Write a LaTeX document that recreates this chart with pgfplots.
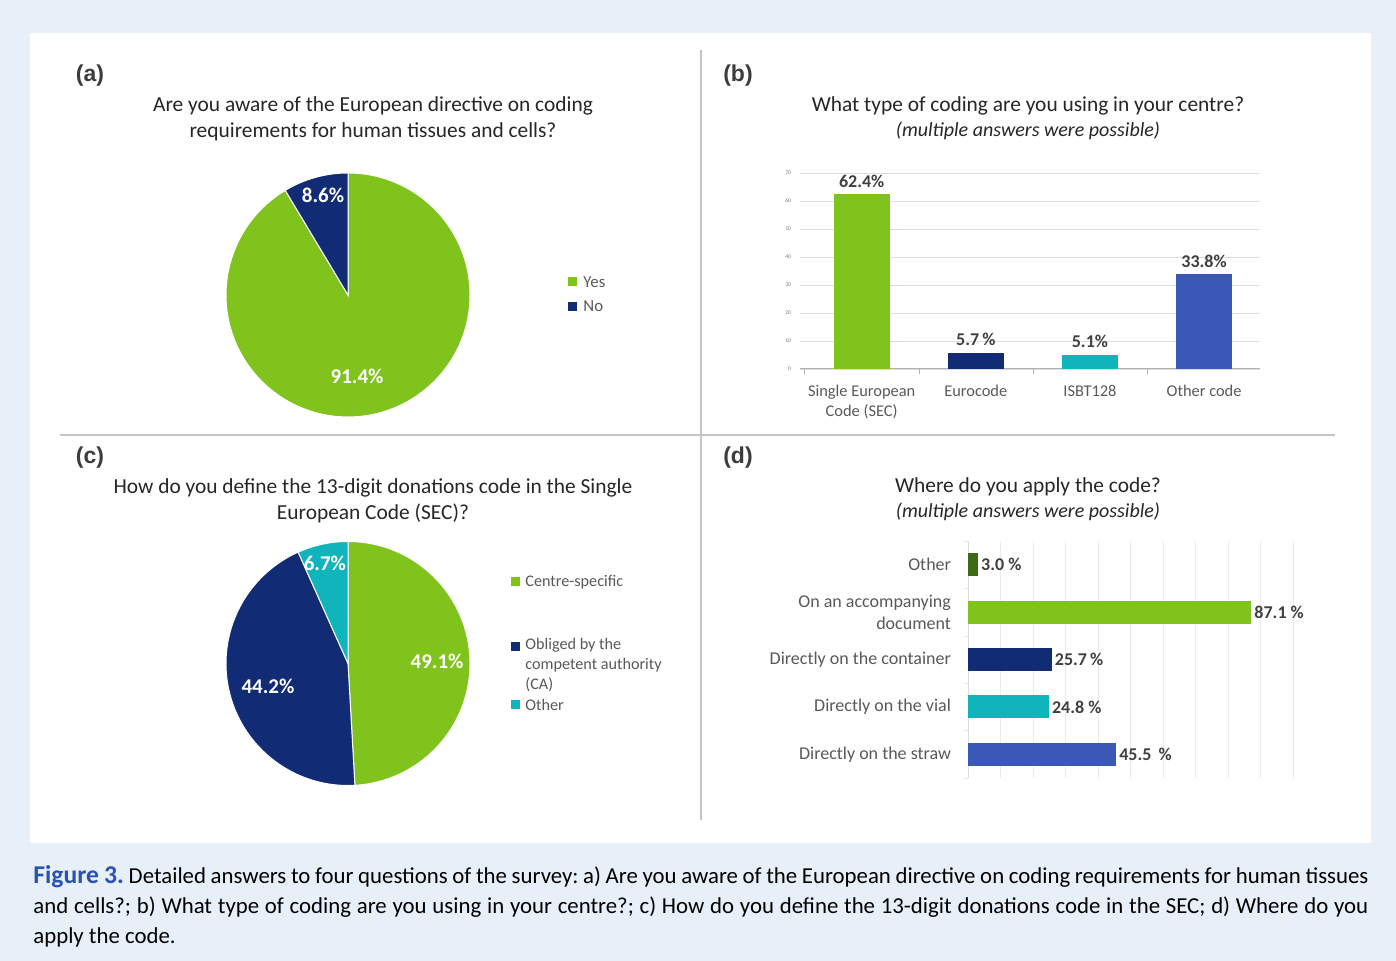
\documentclass[border=0pt]{standalone}
\usepackage{fontspec}
\setmainfont{Carlito}
\newfontfamily\arialf{Liberation Sans}
\usepackage{pgfplots}
\pgfplotsset{compat=1.18}
\definecolor{bgc}{HTML}{E7EFF9}
\definecolor{cgreen}{HTML}{80C31C}
\definecolor{cnavy}{HTML}{112B74}
\definecolor{cteal}{HTML}{10B5BC}
\definecolor{cblue}{HTML}{3A58B8}
\definecolor{cdkgreen}{HTML}{3D6914}
\definecolor{titc}{HTML}{262626}
\definecolor{labc}{HTML}{595959}
\definecolor{valc}{HTML}{404040}
\definecolor{gridc}{HTML}{DDDDDD}
\definecolor{gridl}{HTML}{EBEBEB}
\definecolor{divc}{HTML}{C4C4C4}
\definecolor{figblue}{HTML}{2A52B0}
\newcommand{\tfont}{\fontsize{10.7}{13}\selectfont}
\newcommand{\sfont}{\itshape\fontsize{10}{13}\selectfont}
\newcommand{\lfont}{\fontsize{8.2}{10}\selectfont}
\newcommand{\dfont}{\fontsize{9}{11}\selectfont}
\newcommand{\vfont}{\bfseries\fontsize{9}{10}\selectfont}
\newcommand{\pfont}{\bfseries\fontsize{10.5}{12}\selectfont}
\newcommand{\panfont}{\arialf\bfseries\fontsize{11.5}{13}\selectfont}
\begin{document}
\frenchspacing
\begin{tikzpicture}
% background
\fill[bgc] (0pt,0pt) rectangle (698pt,480.5pt);
\fill[white] (15pt,59pt) rectangle (685.5pt,464pt);
% dividers
\draw[divc, line width=0.6pt] (350.5pt,70.5pt) -- (350.5pt,455.5pt);
\draw[divc, line width=0.6pt] (30pt,263pt) -- (667.5pt,263pt);

% ---------- panel (a) ----------
\node[text=titc!90, font=\panfont] at (45pt,442.5pt) {(a)};
\node[text=titc, font=\tfont, align=center] at (186.5pt,421pt) {Are you aware of the European directive on coding\\requirements for human tissues and cells?};
\begin{axis}[at={(174pt,333pt)}, anchor=center, hide axis, x=61pt, y=61pt,
  xmin=-1, xmax=1, ymin=-1, ymax=1, clip=false]
  \fill[cgreen, draw=white, line width=0.5pt] (axis cs:0,0) -- (axis cs:0,1) arc[start angle=90, end angle={90-3.6*91.4}, radius=1] -- cycle;
  \fill[cnavy, draw=white, line width=0.5pt] (axis cs:0,0) -- (axis cs:0,1) arc[start angle=90, end angle={90+3.6*8.6}, radius=1] -- cycle;
  \node[text=white, font=\pfont] at (axis cs:-0.205,0.82) {8.6\%};
  \node[text=white, font=\pfont] at (axis cs:0.074,-0.664) {91.4\%};
\end{axis}
\fill[cgreen] (284pt,337.25pt) rectangle ++(4.5pt,4.5pt);
\node[anchor=west, inner sep=0pt, text=labc, font=\fontsize{8.4}{10}\selectfont] at (291.5pt,339.5pt) {Yes};
\fill[cnavy] (284pt,325pt) rectangle ++(4.5pt,4.5pt);
\node[anchor=west, inner sep=0pt, text=labc, font=\fontsize{8.4}{10}\selectfont] at (291.5pt,327.25pt) {No};

% ---------- panel (b) ----------
\node[text=titc!90, font=\panfont] at (369pt,442.5pt) {(b)};
\node[text=titc, font=\tfont] at (514pt,427.5pt) {What type of coding are you using in your centre?};
\node[text=titc, font=\sfont] at (514pt,415pt) {(multiple answers were possible)};
\begin{axis}[at={(400pt,296pt)}, anchor=south west, scale only axis, width=230pt, height=98pt,
  xmin=-0.54, xmax=3.49, ymin=0, ymax=70,
  ybar, bar width=28pt,
  ytick={0,10,...,70}, xtick={0,1,2,3},
  xticklabels={{Single European\\Code (SEC)},Eurocode,ISBT128,Other code},
  xticklabel style={align=center, font=\lfont, text=labc, yshift=-4.5pt},
  yticklabel style={font=\fontsize{2.8}{3}\selectfont, text=labc!80, xshift=-1pt},
  /pgf/number format/assume math mode=true,
  ymajorgrids, grid style={gridc, line width=0.4pt},
  axis x line*=bottom, axis y line*=left,
  y axis line style={draw=none}, x axis line style={gridc!80!black, line width=0.5pt},
  major tick length=0pt,
  minor xtick={-0.5,0.5,1.5,2.5,3.5}, minor tick length=2.5pt, tick align=outside,
  minor tick style={gridc!80!black},
  nodes near coords style={font=\vfont, text=valc},
  clip=false]
  \addplot[fill=cgreen, draw=none, bar shift=0pt, nodes near coords={62.4\%}] coordinates {(0,62.4)};
  \addplot[fill=cnavy, draw=none, bar shift=0pt, nodes near coords={5.7\,\%}] coordinates {(1,5.7)};
  \addplot[fill=cteal, draw=none, bar shift=0pt, nodes near coords={5.1\%}] coordinates {(2,5.1)};
  \addplot[fill=cblue, draw=none, bar shift=0pt, nodes near coords={33.8\%}] coordinates {(3,33.8)};
\end{axis}

% ---------- panel (c) ----------
\node[text=titc!90, font=\panfont] at (45pt,251.5pt) {(c)};
\node[text=titc, font=\tfont, align=center] at (186.5pt,230pt) {How do you define the 13-digit donations code in the Single\\European Code (SEC)?};
\begin{axis}[at={(174pt,148.75pt)}, anchor=center, hide axis, x=61pt, y=61pt,
  xmin=-1, xmax=1, ymin=-1, ymax=1, clip=false]
  \fill[cgreen, draw=white, line width=0.5pt] (axis cs:0,0) -- (axis cs:0,1) arc[start angle=90, end angle={90-3.6*49.1}, radius=1] -- cycle;
  \fill[cnavy, draw=white, line width=0.5pt] (axis cs:0,0) -- (axis cs:{cos(90-3.6*49.1)},{sin(90-3.6*49.1)}) arc[start angle={90-3.6*49.1}, end angle={90-3.6*(49.1+44.2)}, radius=1] -- cycle;
  \fill[cteal, draw=white, line width=0.5pt] (axis cs:0,0) -- (axis cs:0,1) arc[start angle=90, end angle={90+3.6*6.7}, radius=1] -- cycle;
  \node[text=white, font=\pfont] at (axis cs:-0.189,0.824) {6.7\%};
  \node[text=white, font=\pfont] at (axis cs:0.730,0.02) {49.1\%};
  \node[text=white, font=\pfont] at (axis cs:-0.656,-0.184) {44.2\%};
\end{axis}
\fill[cgreen] (255.25pt,187.25pt) rectangle ++(4.5pt,4.5pt);
\node[anchor=west, inner sep=0pt, text=labc, font=\fontsize{8.1}{10}\selectfont] at (262.5pt,189.5pt) {Centre-specific};
\fill[cnavy] (255.25pt,154.75pt) rectangle ++(4.5pt,4.5pt);
\node[anchor=north west, inner sep=0pt, text=labc, font=\fontsize{8.1}{10}\selectfont, align=left] at (262.5pt,161.8pt) {Obliged by the\\competent authority\\(CA)};
\fill[cteal] (255.25pt,125.75pt) rectangle ++(4.5pt,4.5pt);
\node[anchor=west, inner sep=0pt, text=labc, font=\fontsize{8.1}{10}\selectfont] at (262.5pt,128pt) {Other};

% ---------- panel (d) ----------
\node[text=titc!90, font=\panfont] at (369pt,251.5pt) {(d)};
\node[text=titc, font=\tfont] at (514pt,237pt) {Where do you apply the code?};
\node[text=titc, font=\sfont] at (514pt,224.5pt) {(multiple answers were possible)};
\begin{axis}[at={(484pt,91.5pt)}, anchor=south west, scale only axis, width=162.5pt, height=118.5pt,
  xmin=0, xmax=100, ymin=-0.5, ymax=4.5,
  xbar, bar width=11.5pt,
  xtick={0,10,...,100}, xticklabels={},
  xmajorgrids, grid style={gridl, line width=0.4pt},
  ytick={0,1,2,3,4},
  yticklabels={Directly on the straw, Directly on the vial, Directly on the container, {On an accompanying\\document}, Other},
  yticklabel style={align=right, font=\dfont, text=labc, xshift=-5pt},
  axis x line*=bottom, axis y line*=left,
  x axis line style={draw=none}, y axis line style={gridc, line width=0.5pt},
  major tick length=0pt,
  minor ytick={-0.5,0.5,1.5,2.5,3.5,4.5}, minor tick length=2.5pt, tick align=outside,
  minor tick style={gridl},
  nodes near coords style={font=\vfont, text=valc, inner sep=1.5pt},
  clip=false]
  \addplot[fill=cblue, draw=none, bar shift=0pt, nodes near coords={45.5\ \,\%}] coordinates {(45.5,0)};
  \addplot[fill=cteal, draw=none, bar shift=0pt, nodes near coords={24.8\ \%}] coordinates {(24.8,1)};
  \addplot[fill=cnavy, draw=none, bar shift=0pt, nodes near coords={25.7\,\%}] coordinates {(25.7,2)};
  \addplot[fill=cgreen, draw=none, bar shift=0pt, nodes near coords={87.1\ \%}] coordinates {(87.1,3)};
  \addplot[fill=cdkgreen, draw=none, bar shift=0pt, nodes near coords={3.0\ \%}] coordinates {(3.0,4)};
\end{axis}

% ---------- caption ----------
\node[anchor=base west, inner sep=0pt, font=\fontsize{11.4}{15}\selectfont] at (16.5pt,38.5pt)
  {\makebox[667.5pt][s]{\textcolor{figblue}{\bfseries\fontsize{12.8}{15}\selectfont Figure 3.} Detailed answers to four questions of the survey: a) Are you aware of the European directive on coding requirements for human tissues}};
\node[anchor=base west, inner sep=0pt, font=\fontsize{11.4}{15}\selectfont] at (16.5pt,23.5pt)
  {\makebox[667.5pt][s]{and cells?; b) What type of coding are you using in your centre?; c) How do you define the 13-digit donations code in the SEC; d) Where do you}};
\node[anchor=base west, inner sep=0pt, font=\fontsize{11.4}{15}\selectfont] at (16.5pt,8.5pt)
  {apply the code.};
\end{tikzpicture}
\end{document}
